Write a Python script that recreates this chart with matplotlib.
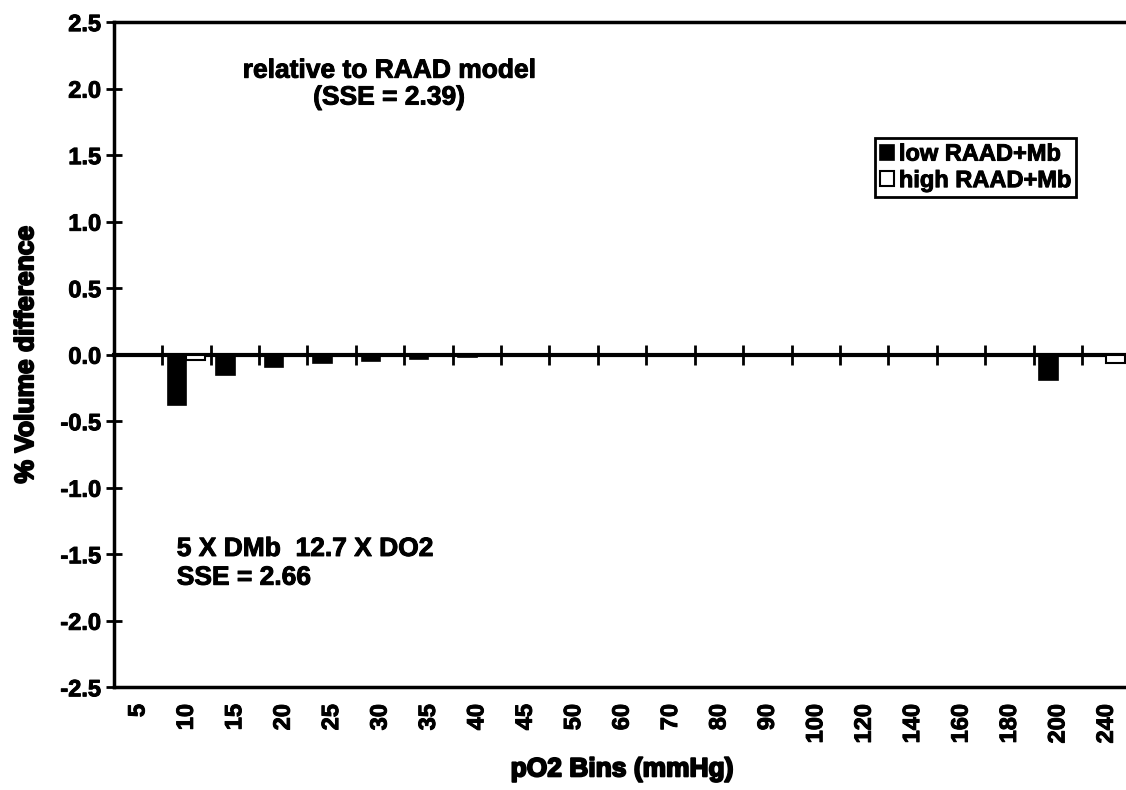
import numpy as np
import matplotlib
matplotlib.use('Agg')
import matplotlib.pyplot as plt
import matplotlib.patheffects as pe

# pO2 bin labels and % volume difference per series
bins = ['5', '10', '15', '20', '25', '30', '35', '40', '45', '50', '60',
        '70', '80', '90', '100', '120', '140', '160', '180', '200', '240']
low_raad = [0.0, -0.38, -0.15, -0.09, -0.06, -0.05, -0.03, -0.02, -0.01, -0.01, -0.01,
            -0.01, 0.0, 0.0, 0.0, 0.0, 0.0, 0.0, 0.0, -0.19, 0.0]
high_raad = [0.0, -0.04, 0.0, 0.0, 0.0, 0.0, 0.0, 0.0, 0.0, 0.0, 0.0,
             0.0, 0.0, 0.0, 0.0, 0.0, 0.0, 0.0, 0.0, 0.0, -0.06]
y_ticks = [-2.5, -2.0, -1.5, -1.0, -0.5, 0.0, 0.5, 1.0, 1.5, 2.0, 2.5]

plt.rcParams['font.family'] = ['Liberation Sans', 'DejaVu Sans']
plt.rcParams['font.weight'] = 'bold'

# thicken glyphs a little, like the scanned original
fat = [pe.withStroke(linewidth=0.7, foreground='black')]
fatter = [pe.withStroke(linewidth=1.4, foreground='black')]

fig = plt.figure(figsize=(11.26, 7.90), dpi=100)
ax = fig.add_axes([0.101, 0.130, 0.903, 0.842])

x = np.arange(len(bins))
w = 0.38
ax.bar(x - w / 2, low_raad, w, color='black', edgecolor='black', linewidth=1.2,
       label='low RAAD+Mb', zorder=3)
ax.bar(x + w / 2, high_raad, w, color='white', edgecolor='black', linewidth=1.5,
       label='high RAAD+Mb', zorder=3)

ax.set_xlim(-0.5, len(bins) - 0.5)
ax.set_ylim(-2.5, 2.5)
ax.set_yticks(y_ticks)
ax.set_yticklabels([f'{v:.1f}' for v in y_ticks], fontsize=17, fontweight='bold')
ax.tick_params(axis='y', direction='inout', length=12, width=2, pad=3)

ax.set_xticks(x)
ax.set_xticklabels(bins, rotation=90, fontsize=17, fontweight='bold')
ax.tick_params(axis='x', length=0, pad=12)

for lab in ax.get_xticklabels() + ax.get_yticklabels():
    lab.set_path_effects(fat)

for s in ['left', 'bottom', 'top']:
    ax.spines[s].set_linewidth(2.5)
ax.spines['right'].set_visible(False)

# category axis crossing at zero
sec = ax.secondary_xaxis(0.5)
sec.set_xticks(x[:-1] + 0.5)
sec.set_xticklabels([])
sec.tick_params(direction='inout', length=14, width=2)
sec.spines['top'].set_linewidth(3)
sec.spines['bottom'].set_linewidth(3)

ax.set_ylabel('% Volume difference', fontsize=19, fontweight='bold', labelpad=16,
              path_effects=fatter)
ax.set_xlabel('pO2 Bins (mmHg)', fontsize=19, fontweight='bold', labelpad=10,
              path_effects=fatter)

ax.text(0.271, 0.945, 'relative to RAAD model\n(SSE = 2.39)', transform=ax.transAxes,
        ha='center', va='top', fontsize=19, fontweight='bold', linespacing=1.15,
        path_effects=fat)
ax.text(0.062, 0.226, '5 X DMb  12.7 X DO2\nSSE = 2.66', transform=ax.transAxes,
        ha='left', va='top', fontsize=19, fontweight='bold', linespacing=1.25,
        path_effects=fat)

leg = ax.legend(loc='upper left', bbox_to_anchor=(0.749, 0.826), borderaxespad=0,
                fancybox=False, framealpha=1, edgecolor='black', fontsize=17,
                handlelength=0.6, handleheight=0.6, handletextpad=0.2,
                labelspacing=0.15, borderpad=0.2)
leg.get_frame().set_linewidth(2)
for t in leg.get_texts():
    t.set_path_effects(fat)

fig.savefig('out.png', dpi=100)
